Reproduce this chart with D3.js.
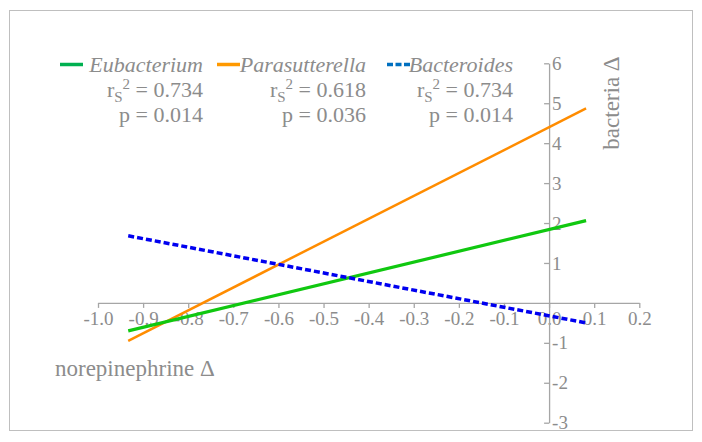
<!DOCTYPE html>
<html>
<head>
<meta charset="utf-8">
<script src="https://cdn.jsdelivr.net/npm/d3@7"></script>
<style>
  body { margin: 0; background: #fff; }
</style>
</head>
<body>
<div id="chart"></div>
<script>
// regression lines, two end points each
let seriesNames = ["Eubacterium", "Parasutterella", "Bacteroides"];
let xEnds = [-0.933, 0.082];
let eubacterium = [-0.70, 2.06];
let parasutterella = [-0.95, 4.87];
let bacteroides = [1.68, -0.50];
let rs2Labels = ["0.734", "0.618", "0.734"];
let pLabels = ["0.014", "0.036", "0.014"];
let xTicks = [-1.0, -0.9, -0.8, -0.7, -0.6, -0.5, -0.4, -0.3, -0.2, -0.1, 0.0, 0.1, 0.2];
let yTicks = [-3, -2, -1, 1, 2, 3, 4, 5, 6];

let width = 702, height = 442;
let serif = "Liberation Serif, serif";
let grey = "#8c8c8c";

let svg = d3.select("#chart")
            .append("svg")
            .attr("width", width)
            .attr("height", height)
            .attr("font-family", serif);

// chart border
svg.append("rect")
   .attr("x", 9.5).attr("y", 10.5)
   .attr("width", 683).attr("height", 420)
   .style("fill", "none")
   .style("stroke", "#bfbfbf")
   .style("stroke-width", 1);

let x = d3.scaleLinear().domain([-1, 0.2]).range([98, 639.3]);
let y = d3.scaleLinear().domain([-3, 6]).range([422.7, 63.3]);

let fmt = d => d.toFixed(1);

// x axis
let gx = svg.append("g")
   .attr("transform", "translate(0," + y(0) + ")")
   .call(d3.axisBottom(x).tickValues(xTicks).tickSize(5).tickSizeOuter(0).tickFormat(fmt))
   .attr("font-family", serif);
gx.select(".domain").style("stroke", "#a6a6a6").style("stroke-width", 1.3);
gx.selectAll(".tick line").style("stroke", "#a6a6a6").style("stroke-width", 1.3);
gx.selectAll("text")
  .attr("y", 22).attr("dy", 0)
  .style("font-size", "19px")
  .style("fill", grey);

// y axis
let gy = svg.append("g")
   .attr("transform", "translate(" + x(0) + ",0)")
   .call(d3.axisLeft(y).tickValues(yTicks).tickSize(5).tickSizeOuter(0).tickFormat(d => String(d)))
   .attr("font-family", serif);
gy.select(".domain").style("stroke", "#a6a6a6").style("stroke-width", 1.3);
gy.selectAll(".tick line").style("stroke", "#a6a6a6").style("stroke-width", 1.3);
gy.selectAll("text")
  .attr("x", 3)
  .style("text-anchor", "start")
  .style("font-size", "19px")
  .style("fill", grey);

// axis titles
svg.append("text")
   .attr("x", 55).attr("y", 376)
   .attr("font-family", serif)
   .style("font-size", "23px")
   .style("fill", grey)
   .text("norepinephrine \u0394");

svg.append("text")
   .attr("transform", "translate(619,103) rotate(-90)")
   .style("text-anchor", "middle")
   .attr("font-family", serif)
   .style("font-size", "23px")
   .style("fill", grey)
   .text("bacteria \u0394");

// lines
let line = d3.line()
             .x((d, i) => x(xEnds[i]))
             .y(d => y(d));

svg.append("path")
   .datum(parasutterella)
   .attr("d", line)
   .style("fill", "none")
   .style("stroke", "#ff8c00")
   .style("stroke-width", 2.5);

svg.append("path")
   .datum(eubacterium)
   .attr("d", line)
   .style("fill", "none")
   .style("stroke", "#10c810")
   .style("stroke-width", 3.2);

svg.append("path")
   .datum(bacteroides)
   .attr("d", line)
   .style("fill", "none")
   .style("stroke", "#0000f0")
   .style("stroke-width", 3.5)
   .style("stroke-dasharray", "6,3");

// legend
let legendColors = ["#00b050", "#ff9900", "#0070c0"];
let legendLineX = [60, 217, 387];
let legendTextRight = [203, 366, 513];

seriesNames.forEach((name, i) => {
  svg.append("line")
     .attr("x1", legendLineX[i]).attr("x2", legendLineX[i] + 23)
     .attr("y1", 64.5).attr("y2", 64.5)
     .style("stroke", legendColors[i])
     .style("stroke-width", 3.5)
     .style("stroke-dasharray", i == 2 ? "6,2.5" : null);

  svg.append("text")
     .attr("x", legendTextRight[i]).attr("y", 72)
     .style("text-anchor", "end")
     .attr("font-family", serif)
     .style("font-style", "italic")
     .style("font-size", "22px")
     .style("fill", grey)
     .text(name);

  let t = svg.append("text")
     .attr("x", legendTextRight[i]).attr("y", 97)
     .style("text-anchor", "end")
     .attr("font-family", serif)
     .style("font-size", "22px")
     .style("fill", grey);
  t.append("tspan").text("r");
  t.append("tspan").attr("dy", 5).style("font-size", "15px").text("S");
  t.append("tspan").attr("dy", -13).style("font-size", "15px").text("2");
  t.append("tspan").attr("dy", 8).text(" = " + rs2Labels[i]);

  svg.append("text")
     .attr("x", legendTextRight[i]).attr("y", 122)
     .style("text-anchor", "end")
     .attr("font-family", serif)
     .style("font-size", "22px")
     .style("fill", grey)
     .text("p = " + pLabels[i]);
});
</script>
</body>
</html>
